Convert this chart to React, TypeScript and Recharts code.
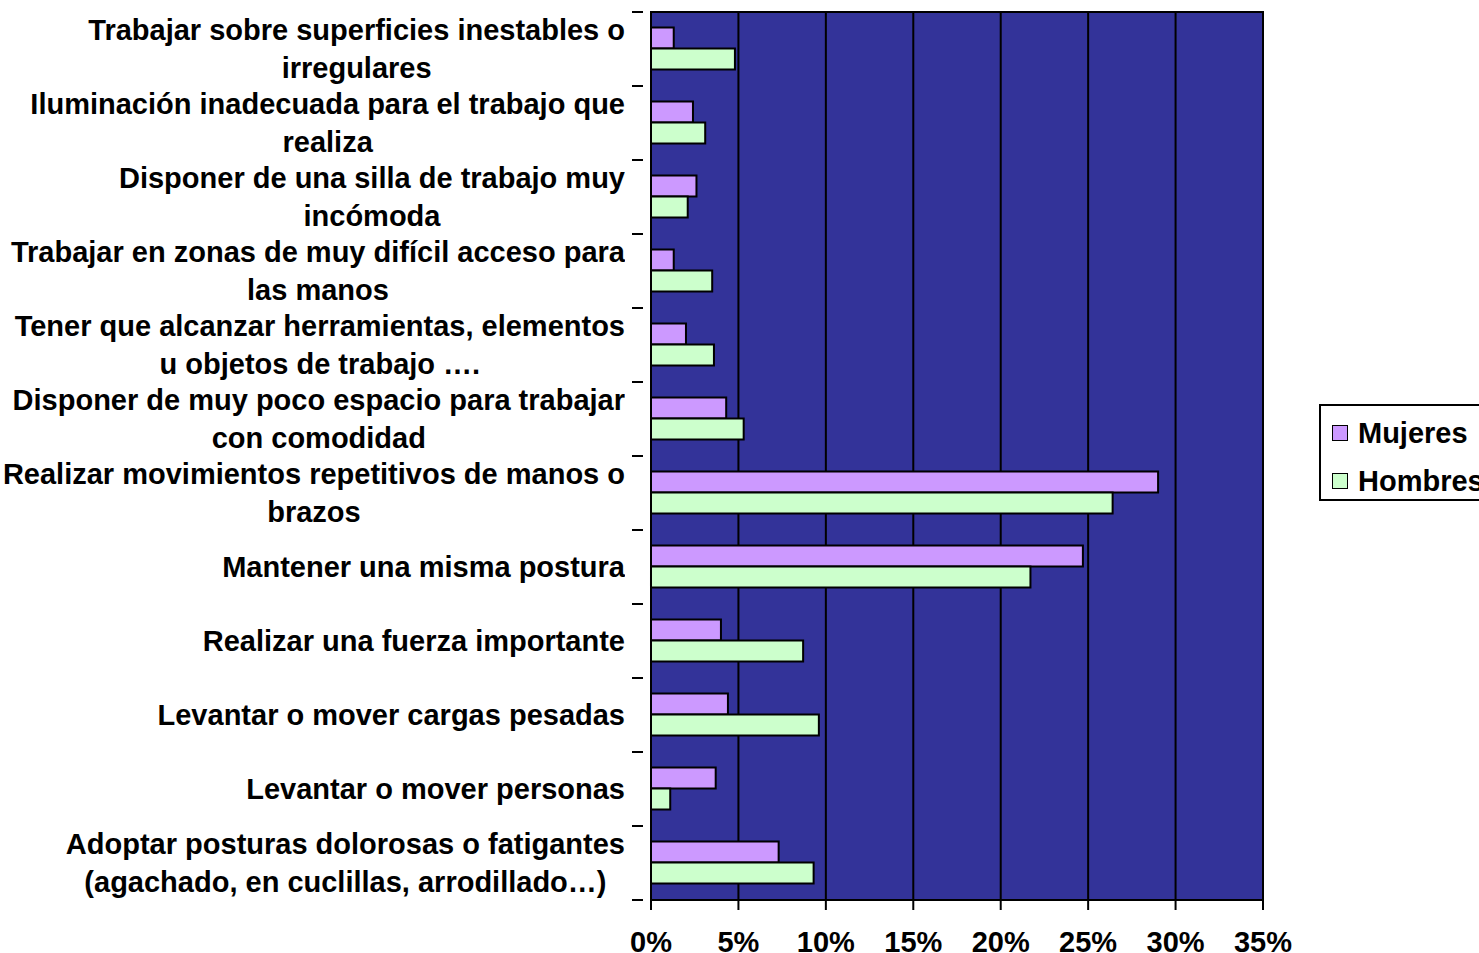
import { BarChart, Bar, XAxis, YAxis, CartesianGrid, Legend, ReferenceArea } from 'recharts';

const categories = [
  'Trabajar sobre superficies inestables o\nirregulares',
  'Iluminación inadecuada para el trabajo que\nrealiza',
  'Disponer de una silla de trabajo muy\nincómoda',
  'Trabajar en zonas de muy difícil acceso para\nlas manos',
  'Tener que alcanzar herramientas, elementos\nu objetos de trabajo ….',
  'Disponer de muy poco espacio para trabajar\ncon comodidad',
  'Realizar movimientos repetitivos de manos o\nbrazos',
  'Mantener una misma postura',
  'Realizar una fuerza importante',
  'Levantar o mover cargas pesadas',
  'Levantar o mover personas',
  'Adoptar posturas dolorosas o fatigantes\n(agachado, en cuclillas, arrodillado…)',
];

const mujeres = [1.3, 2.4, 2.6, 1.3, 2.0, 4.3, 29.0, 24.7, 4.0, 4.4, 3.7, 7.3];
const hombres = [4.8, 3.1, 2.1, 3.5, 3.6, 5.3, 26.4, 21.7, 8.7, 9.6, 1.1, 9.3];

const seriesNames = ['Mujeres', 'Hombres'];
const xTicks = [0, 5, 10, 15, 20, 25, 30, 35];

const data = categories.map((name, i) => ({ name, Mujeres: mujeres[i], Hombres: hombres[i] }));

const FONT = '"Liberation Sans", Arial, sans-serif';
const WIDTH = 1479;
const HEIGHT = 953;
const MARGIN = { top: 12, right: 216, bottom: 0, left: 0 };
const Y_AXIS_W = 651;
const X_AXIS_H = 53;
const PLOT_H = HEIGHT - MARGIN.top - MARGIN.bottom - X_AXIS_H;
const BAND = PLOT_H / categories.length;

const CategoryTick = (props: any) => {
  const { x, y, payload, index } = props;
  const lines = String(payload.value).split('\n');
  return (
    <g>
      <line x1={x - 11} x2={x} y1={y - BAND / 2} y2={y - BAND / 2} stroke="#000" strokeWidth={2} />
      {index === categories.length - 1 && (
        <line x1={x - 11} x2={x} y1={y + BAND / 2} y2={y + BAND / 2} stroke="#000" strokeWidth={2} />
      )}
      <foreignObject x={0} y={y - 45} width={625} height={90}>
        <div
          style={{
            width: 625,
            height: 90,
            display: 'flex',
            justifyContent: 'flex-end',
            alignItems: 'center',
          }}
        >
          <div
            style={{
              textAlign: 'center',
              fontFamily: FONT,
              fontWeight: 'bold',
              fontSize: 29,
              lineHeight: '38px',
              color: '#000',
              whiteSpace: 'nowrap',
            }}
          >
            {lines.map((l, i) => (
              <div key={i}>{l}</div>
            ))}
          </div>
        </div>
      </foreignObject>
    </g>
  );
};

const LegendBox = (props: any) => {
  const items = [...(props.payload || [])].sort(
    (a: any, b: any) => seriesNames.indexOf(a.value) - seriesNames.indexOf(b.value)
  );
  return (
    <div
      style={{
        border: '2px solid #000',
        background: '#fff',
        width: 180,
        height: 97,
        boxSizing: 'border-box',
        padding: '3px 0 0 11px',
        fontFamily: FONT,
        fontWeight: 'bold',
        fontSize: 29,
        color: '#000',
      }}
    >
      {items.map((p: any) => (
        <div key={p.value} style={{ display: 'flex', alignItems: 'center', height: 48 }}>
          <span
            style={{
              display: 'inline-block',
              width: 14,
              height: 14,
              background: p.color,
              border: '1.5px solid #000',
              marginRight: 10,
            }}
          />
          <span>{p.value}</span>
        </div>
      ))}
    </div>
  );
};

export default function App() {
  return (
    <div style={{ position: 'absolute', left: 0, top: 0, width: WIDTH, height: HEIGHT, overflow: 'hidden', background: '#fff' }}>
      <BarChart
        width={WIDTH}
        height={HEIGHT}
        data={data}
        layout="vertical"
        margin={MARGIN}
        barGap={0}
        barCategoryGap="21%"
      >
        <CartesianGrid horizontal={false} vertical stroke="#000" strokeWidth={2} fill="#333399" fillOpacity={1} />
        <XAxis
          type="number"
          domain={[0, 35]}
          ticks={xTicks}
          height={X_AXIS_H}
          tickFormatter={(v: number) => `${v}%`}
          stroke="#000"
          axisLine={{ stroke: '#000', strokeWidth: 2 }}
          tickLine={{ stroke: '#000', strokeWidth: 2 }}
          tickSize={10}
          tickMargin={21}
          tick={{ fill: '#000', fontFamily: FONT, fontWeight: 'bold', fontSize: 29 }}
          interval={0}
        />
        <YAxis
          type="category"
          dataKey="name"
          width={Y_AXIS_W}
          axisLine={{ stroke: '#000', strokeWidth: 2 }}
          tickLine={false}
          tick={<CategoryTick />}
          interval={0}
        />
        <ReferenceArea x1={0} x2={35} stroke="#000" strokeWidth={2} fill="none" fillOpacity={0} ifOverflow="extendDomain" />
        <Legend
          layout="vertical"
          align="center"
          verticalAlign="middle"
          content={<LegendBox />}
          wrapperStyle={{ position: 'absolute', left: 1319, top: 404, width: 180, height: 97 }}
        />
        <Bar dataKey="Mujeres" fill="#CC99FF" stroke="#000" strokeWidth={2} isAnimationActive={false} />
        <Bar dataKey="Hombres" fill="#CCFFCC" stroke="#000" strokeWidth={2} isAnimationActive={false} />
      </BarChart>
    </div>
  );
}
